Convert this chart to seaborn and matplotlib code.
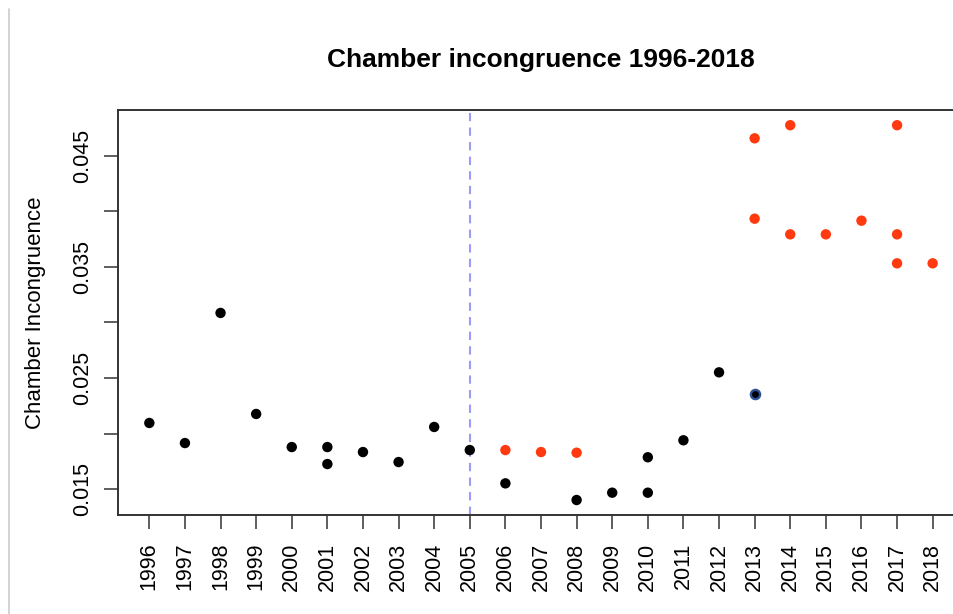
import matplotlib
matplotlib.use("Agg")
import matplotlib.pyplot as plt
import seaborn as sns
import pandas as pd
from matplotlib.lines import Line2D
from matplotlib.ticker import MultipleLocator, FuncFormatter

# ---- data ----
year_labels = list(range(1996, 2019))

black_years = [1996, 1997, 1998, 1999, 2000, 2001, 2001, 2002, 2003, 2004, 2005,
               2006, 2008, 2009, 2010, 2010, 2011, 2012]
black_values = [0.02095, 0.01914, 0.03086, 0.02176, 0.01878, 0.01878, 0.01725,
                0.01833, 0.01743, 0.02059, 0.01851, 0.01551, 0.01401, 0.01467,
                0.01786, 0.01467, 0.01939, 0.02551]

red_years = [2006, 2007, 2008, 2013, 2013, 2014, 2014, 2015, 2016, 2017, 2017, 2017, 2018]
red_values = [0.01851, 0.01833, 0.01827, 0.03935, 0.04659, 0.04777, 0.03794,
              0.03794, 0.03917, 0.04777, 0.03794, 0.03533, 0.03533]

blue_years = [2013]
blue_values = [0.02353]

cutoff_year = 2005

df = pd.DataFrame({
    "year": black_years + red_years,
    "value": black_values + red_values,
    "group": ["black"] * len(black_years) + ["red"] * len(red_years),
})
df_blue = pd.DataFrame({"year": blue_years, "value": blue_values})

# ---- style ----
sns.set_style("ticks")
plt.rcParams["font.family"] = ["Liberation Sans", "DejaVu Sans"]
plt.rcParams["text.color"] = "black"
plt.rcParams["axes.labelcolor"] = "black"
plt.rcParams["xtick.color"] = "#333333"
plt.rcParams["ytick.color"] = "#333333"
plt.rcParams["xtick.labelcolor"] = "black"
plt.rcParams["ytick.labelcolor"] = "black"

fig = plt.figure(figsize=(9.54, 6.14), dpi=100)
ax = fig.add_axes([118 / 954, 1 - 515 / 614, (964 - 118) / 954, (515 - 110) / 614])

ax.axvline(cutoff_year, color="#9c9cf7", linestyle=(0, (4, 3)), linewidth=1.5, zorder=1)

sns.scatterplot(data=df, x="year", y="value", hue="group",
                palette={"black": "black", "red": "#ff3a10"},
                s=56, edgecolor="none", legend=False, ax=ax, zorder=3)
sns.scatterplot(data=df_blue, x="year", y="value", color="black",
                s=44, edgecolor="#2d5296", linewidth=1.7, legend=False, ax=ax, zorder=3)

ax.set_xlim(1995.12, 2018.88)
ax.set_ylim(0.01266, 0.04914)

ax.set_xticks(year_labels)
ax.set_xticklabels([str(y) for y in year_labels], rotation=90, fontsize=15.5)

ax.yaxis.set_major_locator(MultipleLocator(0.005))
def yfmt(v, pos):
    k = round(v * 1000)
    return f"{v:.3f}" if k % 10 == 5 else ""
ax.yaxis.set_major_formatter(FuncFormatter(yfmt))
ax.tick_params(axis="y", labelsize=15.5, length=10, width=1.1, pad=8)
ax.tick_params(axis="x", labelsize=15.5, length=10, width=1.1, pad=10)
plt.setp(ax.get_yticklabels(), rotation=90, va="center")

for sp in ax.spines.values():
    sp.set_visible(True)
    sp.set_color("#333333")
    sp.set_linewidth(1.4)

ax.set_xlabel("")
ax.set_ylabel("Chamber Incongruence", fontsize=16, labelpad=19)
ax.set_title("Chamber incongruence 1996-2018", fontsize=19, fontweight="bold", pad=31)

fig.add_artist(Line2D([9 / 954, 9 / 954], [0, 1 - 9 / 614], color="#cccccc", linewidth=1.2))

fig.savefig("out.png", dpi=100)
